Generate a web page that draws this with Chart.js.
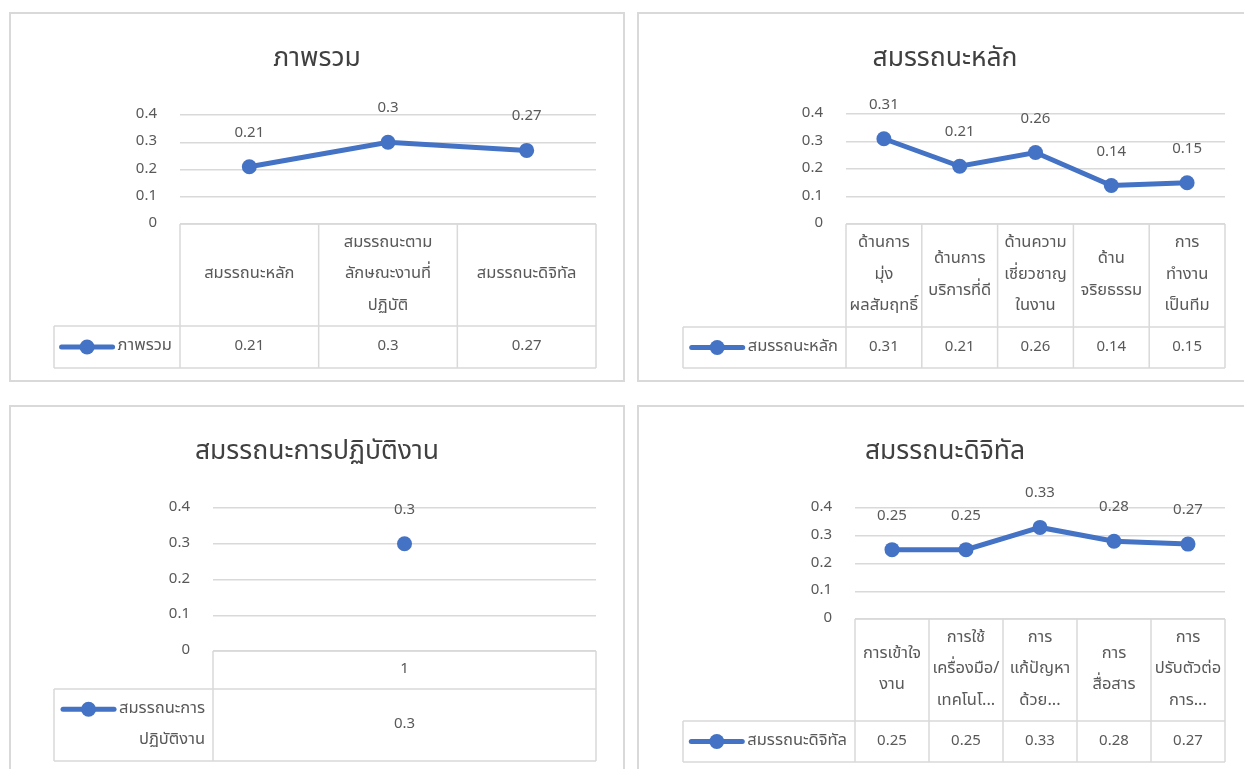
<!DOCTYPE html>
<html lang="th">
<head>
<meta charset="utf-8">
<title>สมรรถนะ</title>
<script src="https://cdn.jsdelivr.net/npm/chart.js@4.4.1/dist/chart.umd.min.js"></script>
<style>
  html, body { margin: 0; padding: 0; background: #ffffff; width: 1244px; height: 769px; overflow: hidden; }
  .frame { position: absolute; box-sizing: border-box; border: 2px solid #D9D9D9; background: #ffffff; }
  canvas.chart { position: absolute; }
</style>
</head>
<body>
<script>
// Shared value axis labels
const yTickLabels = ['0', '0.1', '0.2', '0.3', '0.4'];

// ภาพรวม
const overallTitle = 'ภาพรวม';
const overallCategories = ['สมรรถนะหลัก', ['สมรรถนะตาม', 'ลักษณะงานที่', 'ปฏิบัติ'], 'สมรรถนะดิจิทัล'];
const overallValues = [0.21, 0.3, 0.27];

// สมรรถนะหลัก
const coreTitle = 'สมรรถนะหลัก';
const coreCategories = [
  ['ด้านการ', 'มุ่ง', 'ผลสัมฤทธิ์'],
  ['ด้านการ', 'บริการที่ดี'],
  ['ด้านความ', 'เชี่ยวชาญ', 'ในงาน'],
  ['ด้าน', 'จริยธรรม'],
  ['การ', 'ทำงาน', 'เป็นทีม']
];
const coreValues = [0.31, 0.21, 0.26, 0.14, 0.15];

// สมรรถนะการปฏิบัติงาน
const practiceTitle = 'สมรรถนะการปฏิบัติงาน';
const practiceCategories = ['1'];
const practiceValues = [0.3];
const practiceLegendLines = ['สมรรถนะการ', 'ปฏิบัติงาน'];

// สมรรถนะดิจิทัล
const digitalTitle = 'สมรรถนะดิจิทัล';
const digitalCategories = [
  ['การเข้าใจ', 'งาน'],
  ['การใช้', 'เครื่องมือ/', 'เทคโนโ...'],
  ['การ', 'แก้ปัญหา', 'ด้วย...'],
  ['การ', 'สื่อสาร'],
  ['การ', 'ปรับตัวต่อ', 'การ...']
];
const digitalValues = [0.25, 0.25, 0.33, 0.28, 0.27];

// ---- styling ----
const FONT = "'Leelawadee UI', 'Noto Sans Thai', 'Noto Sans Thai UI', Tahoma, 'Noto Sans', sans-serif";
const TEXT = '#595959';
const TITLE_TEXT = '#404040';
const GRID = '#D9D9D9';
const SERIES = '#4472C4';
const NUM_SIZE = 15;   // digits
const THAI_SIZE = 16.5; // Thai words in the table

const isNumber = t => /^[\d.]+$/.test(t);
const fontFor = t => `${isNumber(t) ? NUM_SIZE : THAI_SIZE}px ${FONT}`;

// Data table drawn under the plot: category row, then the series row with its key
const dataTablePlugin = {
  id: 'dataTable',
  afterDraw(chart, args, opts) {
    const { ctx, chartArea } = chart;
    const xs = chart.scales.x;
    const labels = chart.data.labels;
    const ds = chart.data.datasets[0];
    const n = labels.length;
    const left = chartArea.left, right = chartArea.right;
    const top = chartArea.bottom;
    const mid = top + opts.headerHeight;
    const bottom = mid + opts.rowHeight;
    const colW = (right - left) / n;

    ctx.save();
    ctx.strokeStyle = GRID;
    ctx.lineWidth = 1.5;
    ctx.beginPath();
    ctx.moveTo(left, top); ctx.lineTo(right, top);
    ctx.moveTo(opts.legendLeft, mid); ctx.lineTo(right, mid);
    ctx.moveTo(opts.legendLeft, bottom); ctx.lineTo(right, bottom);
    ctx.moveTo(opts.legendLeft, mid); ctx.lineTo(opts.legendLeft, bottom);
    for (let i = 0; i <= n; i++) {
      const x = left + i * colW;
      ctx.moveTo(x, top); ctx.lineTo(x, bottom);
    }
    ctx.stroke();

    const put = (t, x, y) => { ctx.font = fontFor(t); ctx.fillText(t, x, y); };

    ctx.fillStyle = TEXT;
    ctx.textAlign = 'center';
    ctx.textBaseline = 'middle';
    labels.forEach((lab, i) => {
      const cx = xs.getPixelForValue(i);
      const lines = Array.isArray(lab) ? lab : [lab];
      const y0 = (top + mid) / 2 - (lines.length - 1) * opts.lineHeight / 2;
      lines.forEach((t, k) => put(t, cx, y0 + k * opts.lineHeight));
      put(String(ds.data[i]), cx, (mid + bottom) / 2);
    });

    // series key: line with a marker, then the series name
    const legendLines = opts.legendLines || [ds.label];
    const textRight = left - opts.legendPad;
    const ly0 = (mid + bottom) / 2 - (legendLines.length - 1) * opts.lineHeight / 2;
    ctx.textAlign = 'right';
    legendLines.forEach((t, k) => put(t, textRight, ly0 + k * opts.lineHeight));
    ctx.font = fontFor(legendLines[0]);
    const w0 = ctx.measureText(legendLines[0]).width;
    const keyRight = textRight - w0 - 3;
    const keyLeft = keyRight - 55;
    ctx.strokeStyle = ds.borderColor;
    ctx.lineWidth = ds.borderWidth;
    ctx.lineCap = 'round';
    ctx.beginPath();
    ctx.moveTo(keyLeft + 2, ly0); ctx.lineTo(keyRight - 2, ly0);
    ctx.stroke();
    ctx.fillStyle = ds.pointBackgroundColor;
    ctx.beginPath();
    ctx.arc((keyLeft + keyRight) / 2, ly0, 7.5, 0, Math.PI * 2);
    ctx.fill();
    ctx.restore();
  }
};

// Value labels above each point
const pointLabelPlugin = {
  id: 'pointLabels',
  afterDatasetsDraw(chart, args, opts) {
    const { ctx } = chart;
    ctx.save();
    ctx.fillStyle = TEXT;
    ctx.font = `${opts.fontSize}px ${FONT}`;
    ctx.textAlign = 'center';
    ctx.textBaseline = 'middle';
    chart.data.datasets.forEach((ds, di) => {
      chart.getDatasetMeta(di).data.forEach((pt, i) => {
        ctx.fillText(String(ds.data[i]), pt.x, pt.y - opts.offset);
      });
    });
    ctx.restore();
  }
};

// Page placement of each panel: frame box, plot box, table rows
const panels = [
  { title: overallTitle, labels: overallCategories, values: overallValues,
    frame: { x: 9, y: 12, w: 616, h: 370 }, plot: { l: 180, r: 596, t: 115, b: 224 },
    headerHeight: 102, rowHeight: 42, legendLeft: 54 },
  { title: coreTitle, labels: coreCategories, values: coreValues,
    frame: { x: 637, y: 12, w: 616, h: 370 }, plot: { l: 846, r: 1225, t: 114, b: 224 },
    headerHeight: 103, rowHeight: 41, legendLeft: 683 },
  { title: practiceTitle, labels: practiceCategories, values: practiceValues, legendLines: practiceLegendLines,
    frame: { x: 9, y: 405, w: 616, h: 370 }, plot: { l: 213, r: 596, t: 508, b: 651 },
    headerHeight: 38, rowHeight: 72, legendLeft: 54 },
  { title: digitalTitle, labels: digitalCategories, values: digitalValues,
    frame: { x: 637, y: 405, w: 616, h: 370 }, plot: { l: 855, r: 1225, t: 508, b: 619 },
    headerHeight: 102, rowHeight: 41, legendLeft: 683 }
];

const TITLE_SIZE = 26.5;
const TITLE_LH = 1.2;
const TITLE_CENTER = 49; // from top of frame

panels.forEach(p => {
  const f = p.frame;
  const div = document.createElement('div');
  div.className = 'frame';
  Object.assign(div.style, { left: f.x + 'px', top: f.y + 'px', width: f.w + 'px', height: f.h + 'px' });
  document.body.appendChild(div);

  const canvas = document.createElement('canvas');
  canvas.className = 'chart';
  canvas.width = f.w; canvas.height = f.h;
  Object.assign(canvas.style, { left: f.x + 'px', top: f.y + 'px', width: f.w + 'px', height: f.h + 'px' });
  document.body.appendChild(canvas);

  const L = p.plot.l - f.x, R = p.plot.r - f.x, T = p.plot.t - f.y, B = p.plot.b - f.y;
  const side = f.w - R;
  const titleLine = TITLE_SIZE * TITLE_LH;

  new Chart(canvas, {
    type: 'line',
    data: {
      labels: p.labels,
      datasets: [{
        label: p.title,
        data: p.values,
        borderColor: SERIES,
        backgroundColor: SERIES,
        borderWidth: 5,
        tension: 0,
        pointRadius: 7.5,
        pointHoverRadius: 7.5,
        pointBorderWidth: 0,
        pointBackgroundColor: SERIES
      }]
    },
    options: {
      responsive: false,
      animation: false,
      events: [],
      layout: { padding: { top: 0, left: side, right: side, bottom: f.h - B } },
      scales: {
        x: { type: 'category', display: false, offset: true },
        y: {
          min: 0, max: 0.4,
          afterFit: s => { s.width = L - side; },
          border: { display: false },
          grid: { color: GRID, lineWidth: 1.5, drawTicks: false },
          ticks: {
            stepSize: 0.1, padding: 23, color: TEXT,
            font: { family: FONT, size: NUM_SIZE },
            callback: (v, i) => yTickLabels[i]
          }
        }
      },
      plugins: {
        legend: { display: false },
        tooltip: { enabled: false },
        title: {
          display: true, text: p.title, color: TITLE_TEXT,
          font: { family: FONT, size: TITLE_SIZE, weight: 'normal', lineHeight: TITLE_LH },
          padding: { top: TITLE_CENTER - titleLine / 2, bottom: T - TITLE_CENTER - titleLine / 2 }
        },
        pointLabels: { offset: 33, fontSize: NUM_SIZE },
        dataTable: {
          headerHeight: p.headerHeight, rowHeight: p.rowHeight,
          legendLeft: p.legendLeft - f.x, legendPad: 8,
          lineHeight: 31.5, legendLines: p.legendLines
        }
      }
    },
    plugins: [pointLabelPlugin, dataTablePlugin]
  });
});
</script>
</body>
</html>
